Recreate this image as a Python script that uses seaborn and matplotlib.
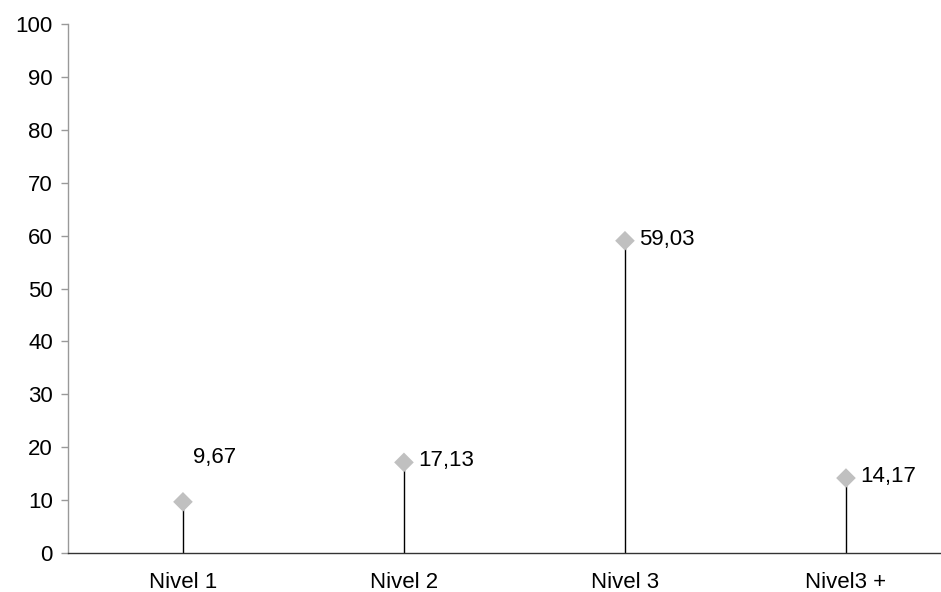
import matplotlib
matplotlib.use('Agg')
import matplotlib.pyplot as plt
import seaborn as sns
import pandas as pd

# data
categorias = ['Nivel 1', 'Nivel 2', 'Nivel 3', 'Nivel3 +']
valores = [9.67, 17.13, 59.03, 14.17]
etiquetas = ['9,67', '17,13', '59,03', '14,17']

df = pd.DataFrame({'nivel': categorias, 'valor': valores})
df['pos'] = range(len(df))

sns.set_style('white')
plt.rcParams['font.family'] = ['Liberation Sans', 'DejaVu Sans']
plt.rcParams['text.color'] = 'black'

fig = plt.figure(figsize=(9.41, 5.92), dpi=100)
ax = fig.add_axes([0.0723, 0.0659, 0.9277, 0.8935])

# stems
ax.vlines(df['pos'], 0, df['valor'], color='black', linewidth=1.0, zorder=1)
sns.scatterplot(data=df, x='pos', y='valor', marker='D', s=100, color='#c0c0c0',
                edgecolor='none', ax=ax, zorder=3)

# value labels
for i, row in df.iterrows():
    if i == 0:
        ax.annotate(etiquetas[i], (row['pos'], row['valor']), xytext=(7, 32),
                    textcoords='offset points', fontsize=16, ha='left', va='center')
    else:
        ax.annotate(etiquetas[i], (row['pos'], row['valor']), xytext=(10, 1),
                    textcoords='offset points', fontsize=16, ha='left', va='center')

ax.set_xlim(-0.52, 3.43)
ax.set_ylim(0, 100)
ax.set_yticks(range(0, 101, 10))
ax.set_xticks(df['pos'])
ax.set_xticklabels(categorias)
ax.set_xlabel('')
ax.set_ylabel('')
ax.tick_params(axis='y', length=5, width=1, color='#999999', labelcolor='black',
               labelsize=16, pad=6, left=True)
ax.tick_params(axis='x', length=0, labelsize=16, labelcolor='black', pad=14)

sns.despine(ax=ax, top=True, right=True)
ax.spines['left'].set_color('#999999')
ax.spines['left'].set_linewidth(1)
ax.spines['bottom'].set_color('#333333')
ax.spines['bottom'].set_linewidth(1)

fig.savefig('out.png', dpi=100)
